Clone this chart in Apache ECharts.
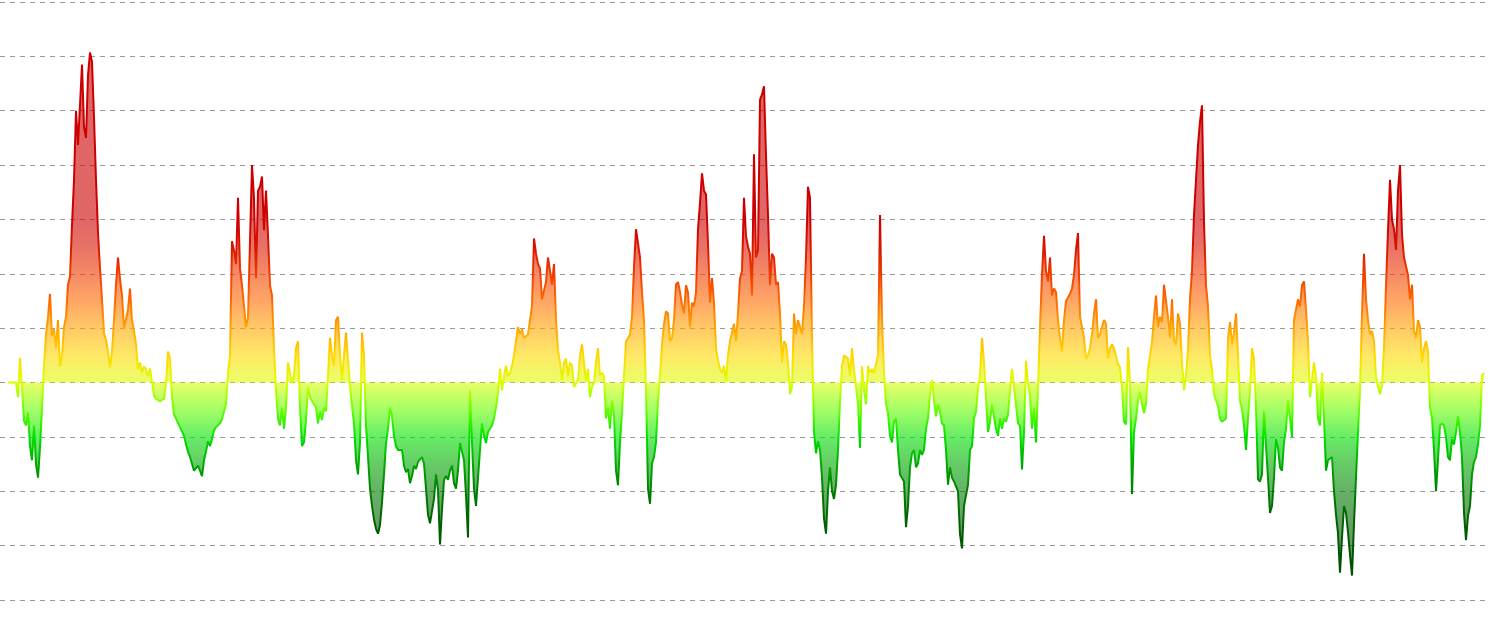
<!DOCTYPE html>
<html>
<head>
<meta charset="utf-8">
<script src="https://cdn.jsdelivr.net/npm/echarts/dist/echarts.min.js"></script>
<style>
html,body{margin:0;padding:0;background:#fff;}
#chart{width:1490px;height:633px;}
</style>
</head>
<body>
<div id="chart"></div>
<script>
// Series values, one every ~2 px across the plot, in grid units
const values = [
// part 1
0,0,0,0,0,-0.27,0.45,-0.08,-0.7,-0.79,-0.55,-1.17,-1.43,-0.79,-1.5,-1.75,-1.2,-0.46,0.3,0.89,
1.2,1.63,0.85,0.98,0.63,1.15,0.3,0.5,1.02,1.21,1.8,1.95,2.9,3.72,5.0,4.37,4.37,5.85,4.7,4.5,
5.65,6.07,5.9,4.88,3.73,2.76,2.1,1.53,0.9,0.79,0.57,0.28,0.57,1.15,1.8,2.3,1.9,1.6,1.0,1.02,
1.34,1.73,1.15,0.95,0.7,0.24,0.37,0.18,0.3,0.24,0.12,0.26,0.02,-0.24,-0.3,-0.33,-0.34,-0.35,-0.3,-0.01,
0.57,0.44,-0.27,-0.59,-0.66,-0.75,-0.82,-0.9,-0.98,-1.14,-1.27,-1.37,-1.37,-1.62,-1.6,-1.53,-1.62,-1.72,-1.43,-1.27,
-1.08,-1.17,-1.04,-0.88,-0.82,-0.79,-0.75,-0.67,-0.69,-0.4,0.18,0.5,2.6,2.43,2.18,3.4,2.1,1.79,1.4,1.02,
1.2,2.6,
// part 2
4.0,3.4,1.92,3.53,3.6,3.79,2.8,3.53,2.7,1.79,1.6,0.63,-0.14,-0.66,-0.79,-0.46,-0.85,-0.46,0.37,0.37,
-0.01,0.12,0.63,0.76,-0.46,-1.17,-1.1,-0.69,-0.08,-0.27,-0.34,-0.33,-0.46,-0.75,-0.53,-0.69,-0.46,-0.53,0.12,0.82,
0.5,0.31,1.15,1.21,0.5,0.05,0.5,0.92,0.95,-0.08,-0.43,-0.75,-1.43,-1.69,-1.1,0.92,0.5,-0.79,-1.37,-1.95,
-2.27,-2.52,-2.69,-2.78,-2.62,-2.2,-1.69,-1.11,-0.85,-0.46,-0.62,-0.98,-1.17,-1.24,-1.24,-1.24,-1.53,-1.65,-1.59,-1.85,
-1.72,-1.53,-1.59,-1.46,-1.43,-1.37,-1.49,-1.95,-2.43,-2.59,-2.59,-2.14,-1.69,-1.98,-2.98,-2.33,-1.79,-1.72,-1.79,-1.62,
-1.53,-1.85,-1.95,-1.62,-1.11,-1.08,-1.43,-2.07,-2.85,-0.14,-1.1,-1.95,-2.27,-1.75,-1.24,-0.75,-0.98,-1.11,-0.91,-0.91,
-0.79,-0.66,-0.46,-0.2,
// part 3
0.25,-0.14,0.12,0.31,0.12,0.18,0.31,0.5,0.76,1.02,0.89,0.98,0.82,0.81,0.89,1.15,1.4,2.65,2.37,2.18,
2.1,1.53,1.53,1.85,2.3,2.3,1.8,2.18,1.15,0.6,0.37,0.05,0.37,0.44,0.12,0.37,0.31,-0.08,-0.08,0.05,
0.5,0.7,0.37,0.02,0.25,-0.27,-0.08,-0.01,0.37,0.63,0.12,0.18,0.12,-0.66,-0.46,-0.85,-0.33,-0.6,-1.62,-1.89,
-1.1,-0.53,0.12,0.76,0.82,0.89,1.21,2.11,2.82,2.82,2.3,1.66,1.15,-0.14,-1.95,-2.23,-1.49,-1.37,-1.1,-0.33,
0.12,0.7,1.08,1.31,1.27,0.76,0.82,1.15,1.8,1.85,1.66,1.44,1.27,1.79,1.66,1.02,1.47,1.4,1.66,2.82,
3.3,3.85,3.53,3.46,2.56,1.47,1.92,1.47,0.63,0.41,0.25,0.18,0.31,0.02,0.5,0.76,0.76,1.08,0.76,1.27,
1.92,2.05,3.4,2.69,2.5,2.37,
// part 4
1.6,4.2,2.3,2.43,5.2,5.3,5.45,4.17,3.08,1.79,2.37,2.3,1.8,1.85,1.27,0.37,0.76,0.7,0.37,-0.21,
-0.08,1.27,0.89,1.15,1.15,0.89,1.4,2.3,3.6,3.4,0.82,-0.91,-1.3,-1.08,-1.24,-1.75,-2.5,-2.78,-2.0,-1.56,
-2.0,-2.14,-1.88,-1.24,-0.33,0.31,0.5,0.47,0.44,0.12,0.63,0.24,-0.08,-0.4,-1.2,0.3,-0.14,-0.4,0.31,0.18,
0.25,0.18,0.18,0.5,3.08,1.15,0.18,-0.4,-0.56,-0.98,-1.1,-0.72,-0.66,-1.24,-1.69,-1.72,-1.82,-2.66,-2.27,-1.56,
-1.3,-1.24,-1.56,-1.49,-1.24,-1.33,-1.24,-0.85,-0.66,-0.21,0.05,-0.33,-0.62,-0.4,-0.53,-0.75,-0.79,-1.24,-1.88,-1.56,
-1.75,-1.82,-1.82,-2.0,-2.79,-3.05,-2.27,-2.27,-1.88,-1.24,-1.17,-0.66,-0.53,-0.11,0.12,0.82,0.37,-0.27,-0.91,-0.72,
-0.4,-0.4,-0.85,-0.98,
// part 5
-0.66,-0.85,-0.66,-0.72,-0.59,-0.14,0.25,0.28,-0.4,-0.75,-0.79,-1.6,-0.91,0.4,-0.01,-0.24,-0.85,-0.46,-1.1,-0.08,
1.02,1.98,2.7,2.05,1.86,2.3,1.6,1.73,1.66,1.15,0.82,0.57,1.15,1.5,1.53,1.63,1.73,1.98,2.44,2.75,
1.21,1.02,0.82,0.44,0.5,0.63,0.89,1.27,1.53,0.82,0.89,0.92,1.15,1.08,0.44,0.63,0.7,0.63,0.63,0.34,
0.28,-0.08,-0.72,-0.77,0.65,0.0,-2.05,-0.91,-0.66,-0.33,-0.17,-0.4,-0.56,-0.4,0.25,0.5,0.73,1.21,1.6,1.02,
1.21,1.11,1.8,1.79,1.21,0.82,1.53,0.76,0.7,1.27,1.08,0.37,-0.14,0.12,0.63,1.53,2.05,3.08,3.73,4.37,
4.8,5.1,2.95,1.79,1.4,0.5,0.25,-0.21,-0.33,-0.43,-0.66,-0.72,-0.69,-0.66,0.82,1.11,0.7,0.92,1.27,0.5,
-0.33,-0.5,-0.79,-1.24,
// part 6
-0.66,-0.14,0.63,0.44,-0.46,-1.78,-1.82,-1.69,-0.53,-1.17,-1.75,-2.4,-2.27,-1.75,-1.04,-1.2,-1.56,-1.62,-1.1,-0.85,
-0.33,-0.66,-1.0,1.15,1.15,1.53,1.4,1.79,1.86,1.34,0.76,-0.27,-0.27,0.37,0.12,-0.66,-0.79,0.18,-0.66,-1.62,
-1.43,-1.43,-1.37,-2.0,-2.43,-2.78,-3.5,-2.85,-2.27,-2.4,-2.75,-3.17,-3.55,-2.59,-1.75,-0.91,-0.14,1.27,2.37,1.53,
1.15,0.89,0.95,0.76,0.12,-0.08,-0.21,-0.05,0.63,1.79,2.79,3.73,3.0,2.82,2.44,3.53,4.0,2.72,2.3,2.3,
1.98,1.53,1.8,0.95,0.82,1.15,1.02,0.37,0.63,0.76,0.57,-0.46,-0.66,-1.24,-2.0,-1.43,-0.79,-0.75,-0.79,-1.01,
-1.37,-1.43,-1.04,-1.14,-0.91,-0.62,-0.91,-1.37,-2.4,-2.9,-2.45,-2.27,-1.69,-1.46,-1.37,-1.14,-0.79,0.13,0.18
];

// Colour scale, one colour every 0.5 from -4 to 7
const colorScale = [
'#005000','#005000','#005500','#006400','#007d00','#00a800','#00e000','#66ff00',
'#ddff00','#ffd800','#ffa500','#ff6a00','#f03c00','#d81400','#cc0000',
'#cc0000','#cc0000','#cc0000','#cc0000','#cc0000','#cc0000','#cc0000','#cc0000'
];

const yMin = -4, yMax = 7, yStep = 1;

const chart = echarts.init(document.getElementById('chart'), null, {renderer: 'canvas'});
chart.setOption({
  animation: false,
  backgroundColor: '#ffffff',
  grid: {left: 0, right: 0, top: 2, bottom: 33},
  xAxis: {
    type: 'value', min: -4, max: values.length + 2,
    axisLine: {show: false}, axisTick: {show: false}, axisLabel: {show: false},
    splitLine: {show: false}
  },
  yAxis: {
    type: 'value', min: yMin, max: yMax, interval: yStep,
    axisLine: {show: false}, axisTick: {show: false}, axisLabel: {show: false},
    splitLine: {show: true, lineStyle: {color: '#9a9a9a', width: 1, type: [5, 5]}}
  },
  visualMap: {
    show: false, type: 'continuous', dimension: 1, seriesIndex: 0,
    min: yMin, max: yMax,
    inRange: {color: colorScale}
  },
  series: [{
    type: 'line',
    data: values.map((v, i) => [i, v]),
    symbol: 'none',
    lineStyle: {width: 2},
    areaStyle: {opacity: 0.6}
  }]
});
</script>
</body>
</html>
